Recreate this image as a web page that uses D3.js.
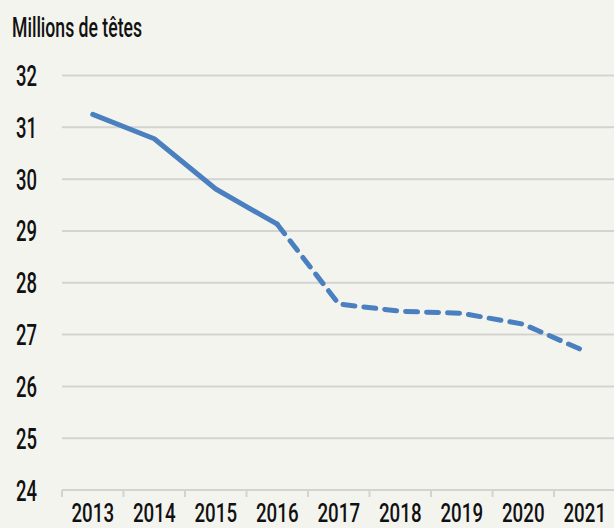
<!DOCTYPE html>
<html>
<head>
<meta charset="utf-8">
<script src="https://cdn.jsdelivr.net/npm/d3@7"></script>
<style>
  html, body { margin: 0; padding: 0; background: #f4f4ef; }
  svg { display: block; }
  text { font-family: Roboto, "Liberation Sans", sans-serif; font-weight: 500; fill: #111; }
</style>
</head>
<body>
<div id="chart"></div>
<script>
const years = ["2013", "2014", "2015", "2016", "2017", "2018", "2019", "2020", "2021"];
const heads = [31.25, 30.78, 29.81, 29.13, 27.59, 27.45, 27.41, 27.2, 26.68];
const yTicks = [24, 25, 26, 27, 28, 29, 30, 31, 32];
const solidUntil = "2016"; // dashed after this year

const width = 614;
const height = 528;

const svg = d3.select("#chart")
  .append("svg")
  .attr("width", width)
  .attr("height", height);

svg.append("rect")
  .attr("width", width)
  .attr("height", height)
  .attr("fill", "#f4f4ef");

const x = d3.scaleBand()
  .domain(years)
  .range([62, 615.5]);

const y = d3.scaleLinear()
  .domain([24, 32])
  .range([490, 75.5]);

// gridlines
svg.append("g")
  .selectAll("line")
  .data(yTicks)
  .join("line")
  .attr("x1", 62)
  .attr("x2", width)
  .attr("y1", d => y(d))
  .attr("y2", d => y(d))
  .attr("stroke", "#d3d3d1")
  .attr("stroke-width", 2);

// y labels
svg.append("g")
  .selectAll("text")
  .data(yTicks)
  .join("text")
  .attr("x", 16)
  .attr("y", d => y(d) + 10.5)
  .attr("font-size", 30)
  .attr("textLength", 21)
  .attr("lengthAdjust", "spacingAndGlyphs")
  .text(d => d);

// x axis ticks
const tickPos = years.map(d => x(d)).concat([x.range()[1]]);
svg.append("g")
  .selectAll("line")
  .data(tickPos)
  .join("line")
  .attr("x1", d => d)
  .attr("x2", d => d)
  .attr("y1", 490)
  .attr("y2", 497)
  .attr("stroke", "#d3d3d1")
  .attr("stroke-width", 2);

// year labels, squeezed to look condensed
svg.append("g")
  .selectAll("text")
  .data(years)
  .join("text")
  .attr("transform", d => `translate(${x(d) + x.bandwidth() / 2},522) scale(0.72,1)`)
  .attr("text-anchor", "middle")
  .attr("font-size", 26)
  .text(d => d);

// title
svg.append("text")
  .attr("x", 12)
  .attr("y", 37)
  .attr("font-size", 28)
  .attr("textLength", 130)
  .attr("lengthAdjust", "spacingAndGlyphs")
  .text("Millions de têtes");

// line
const points = years.map((d, i) => ({ year: d, value: heads[i] }));
const cut = years.indexOf(solidUntil);

const line = d3.line()
  .x(d => x(d.year) + x.bandwidth() / 2)
  .y(d => y(d.value));

svg.append("path")
  .datum(points.slice(0, cut + 1))
  .attr("d", line)
  .attr("fill", "none")
  .attr("stroke", "#4a7fc0")
  .attr("stroke-width", 5)
  .attr("stroke-linecap", "round")
  .attr("stroke-linejoin", "round");

svg.append("path")
  .datum(points.slice(cut))
  .attr("d", line)
  .attr("fill", "none")
  .attr("stroke", "#4a7fc0")
  .attr("stroke-width", 5)
  .attr("stroke-linecap", "round")
  .attr("stroke-linejoin", "round")
  .attr("stroke-dasharray", "12 9");
</script>
</body>
</html>
